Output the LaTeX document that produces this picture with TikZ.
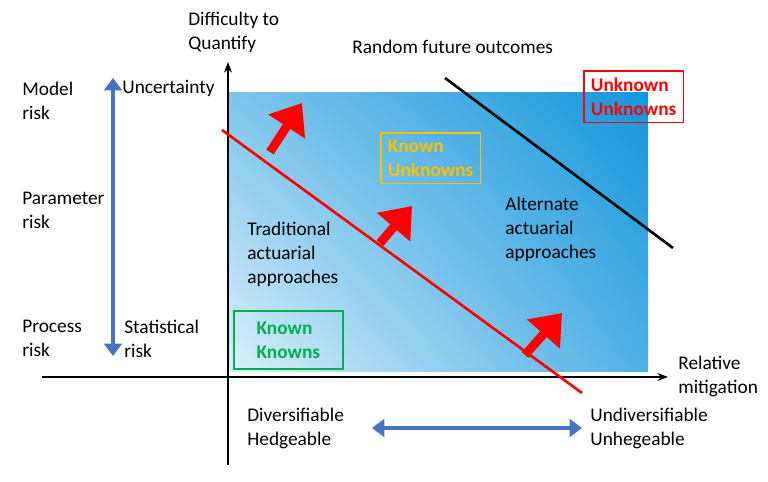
\documentclass[tikz,border=0pt]{standalone}
\usepackage{fontspec}
\setmainfont{Carlito}
\usetikzlibrary{arrows.meta, positioning, shadings}
\definecolor{skyblue}{RGB}{20,150,220}
\definecolor{arrowblue}{RGB}{68,114,196}
\definecolor{knowngreen}{RGB}{0,176,80}
\definecolor{knownorange}{RGB}{255,192,0}
\tikzset{
  lbl/.style={align=left, anchor=north west, inner sep=0pt, font=\fontsize{11}{13.6}\selectfont},
  boxlbl/.style={draw, line width=1pt, align=left, inner sep=4pt, anchor=north west, font=\bfseries\fontsize{11}{13.6}\selectfont},
  bigarrow/.style={red, line width=5pt, -{Triangle[length=16pt, width=24pt]}},
  bluearrow/.style={arrowblue, line width=2.5pt, {Triangle[length=7pt, width=10pt]}-{Triangle[length=7pt, width=10pt]}}
}
\begin{document}
\begin{tikzpicture}[x=0.02cm, y=-0.02cm]
\useasboundingbox (0,0) rectangle (768,482);

% shaded region
\shade[lower left=white!85!skyblue, upper right=skyblue, lower right=skyblue!75, upper left=skyblue!55]
  (228,372) rectangle (648,93);

% axes
\coordinate (yb) at (228,465);
\coordinate (yt) at (228,62);
\coordinate (xl) at (42,377);
\coordinate (xr) at (668,377);
\draw[line width=1pt, -{Stealth[length=6pt]}] (yb) -- (yt);
\draw[line width=1pt, -{Stealth[length=6pt]}] (xl) -- (xr);

% boundary lines
\coordinate (ra) at (222,130);
\coordinate (rb) at (582,393);
\draw[red, line width=1.5pt] (ra) -- (rb);
\coordinate (ba) at (445,78);
\coordinate (bb) at (673,248);
\draw[line width=1.5pt] (ba) -- (bb);

% shift arrows
\coordinate (a1) at (270,152);
\coordinate (a1e) at (302,103);
\coordinate (a2) at (380,243);
\coordinate (a2e) at (412,206);
\coordinate (a3) at (525,355);
\coordinate (a3e) at (562,313);
\draw[bigarrow] (a1) -- (a1e);
\draw[bigarrow] (a2) -- (a2e);
\draw[bigarrow] (a3) -- (a3e);

% double arrows
\coordinate (vt) at (113,78);
\coordinate (vb) at (113,356);
\draw[bluearrow] (vt) -- (vb);
\coordinate (hl) at (372,428);
\coordinate (hr) at (582,428);
\draw[bluearrow] (hl) -- (hr);

% labels
\node[lbl] (diff) at (188,12) {Difficulty to\\Quantify};
\node[lbl] (random) at (352,40) {Random future outcomes};
\node[lbl] (model) at (22,82) {Model\\risk};
\node[lbl] (uncert) at (122,80) {Uncertainty};
\node[lbl] (param) at (22,192) {Parameter\\risk};
\node[lbl] (process) at (22,320) {Process\\risk};
\node[lbl] (stat) at (124,320) {Statistical\\risk};
\node[lbl] (trad) at (247,222) {Traditional\\actuarial\\approaches};
\node[lbl] (alt) at (505,197) {Alternate\\actuarial\\approaches};
\node[lbl] (mitig) at (678,356) {Relative\\mitigation};
\node[lbl] (divers) at (247,408) {Diversifiable\\Hedgeable};
\node[lbl] (undivers) at (590,408) {Undiversifiable\\Unhegeable};

% boxes
\node[boxlbl, red] (uu) at (583,70) {Unknown\\Unknowns};
\node[boxlbl, knownorange] (ku) at (380,132) {Known\\Unknowns};
\node[boxlbl, knowngreen, minimum width=62pt, minimum height=33pt] (kk) at (233,310) {Known\\Knowns};
\end{tikzpicture}
\end{document}
